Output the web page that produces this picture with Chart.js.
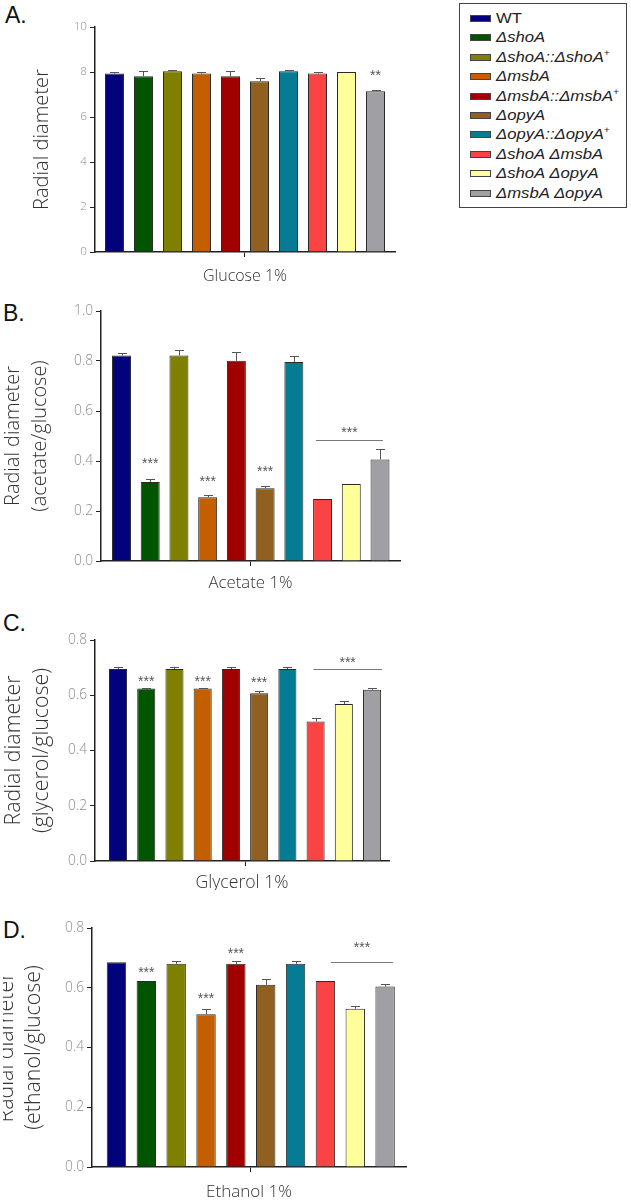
<!DOCTYPE html>
<html lang="en">
<head>
  <meta charset="UTF-8">
  <title>Radial diameter</title>
  <style>
    body { margin: 0; background: #fff; width: 631px; height: 1200px; position: relative; overflow: hidden; }
    canvas { position: absolute; }
    .letter { position: absolute; font: 23px "Liberation Sans", Arial, sans-serif; line-height: 1; color: #111; }
    #legend {
      position: absolute; left: 459px; top: 3px; width: 168px; height: 205px;
      border: 1.5px solid #444; padding-top: 4px; box-sizing: border-box;
      font: italic 15px "Liberation Sans", Arial, sans-serif; color: #222;
    }
    .row { height: 19.4px; line-height: 19.4px; position: relative; white-space: nowrap; }
    .sw { position: absolute; left: 10px; top: 7px; width: 19px; height: 5px; border: 1px solid #444; }
    .lab { position: absolute; left: 36px; top: 0; transform-origin: 0 50%; }
    .lab sup { font-size: 9px; vertical-align: 6px; line-height: 0; }
  </style>
  <script src="https://cdn.jsdelivr.net/npm/chart.js"></script>
</head>
<body>
  <div class="letter" style="left:5px; top:4px;">A.</div>
  <div class="letter" style="left:3px; top:302px;">B.</div>
  <div class="letter" style="left:3px; top:612px;">C.</div>
  <div class="letter" style="left:3px; top:919px;">D.</div>

  <canvas id="chartA" width="420" height="290" style="left:0; top:0;"></canvas>
  <canvas id="chartB" width="422" height="300" style="left:-2px; top:290px;"></canvas>
  <canvas id="chartC" width="420" height="300" style="left:0; top:590px;"></canvas>
  <!-- the original figure is cropped through the first title line of panel D -->
  <canvas id="chartD" width="430" height="310" style="left:-5px; top:890px; clip-path: inset(0 0 0 8px);"></canvas>

  <div id="legend"></div>

  <script>
    // strains and bar colours
    const strains = ['WT', 'ΔshoA', 'ΔshoA::ΔshoA+', 'ΔmsbA', 'ΔmsbA::ΔmsbA+', 'ΔopyA',
                     'ΔopyA::ΔopyA+', 'ΔshoA ΔmsbA', 'ΔshoA ΔopyA', 'ΔmsbA ΔopyA'];
    const colors = ['#02027a', '#015501', '#7f7f00', '#c45f00', '#a00000', '#8f6020',
                    '#057c94', '#fa4343', '#fefe9a', '#a0a0a4'];

    // A. glucose (absolute radial diameter)
    const glucose    = [7.93, 7.81, 8.03, 7.93, 7.81, 7.59, 8.03, 7.93, 8.00, 7.14];
    const glucoseErr = [0.08, 0.25, 0.07, 0.08, 0.25, 0.15, 0.07, 0.08, 0, 0.07];
    const glucoseStars = [null, null, null, null, null, null, null, null, null, 7.96];
    const glucoseTicks = [0, 2, 4, 6, 8, 10];

    // B. acetate / glucose
    const acetate    = [0.822, 0.316, 0.822, 0.255, 0.801, 0.291, 0.796, 0.248, 0.308, 0.406];
    const acetateErr = [0.011, 0.010, 0.023, 0.009, 0.033, 0.011, 0.022, 0, 0, 0.044];
    const acetateStars = [null, 0.400, null, 0.327, null, 0.366, null, null, null, null];
    const acetateGroup = [6.77, 9.1, 0.485, 0.523];   // from, to, line value, stars value
    const acetateTicks = [0, 0.2, 0.4, 0.6, 0.8, 1.0];

    // C. glycerol / glucose
    const glycerol    = [0.695, 0.624, 0.695, 0.624, 0.695, 0.607, 0.695, 0.505, 0.568, 0.620];
    const glycerolErr = [0.008, 0.002, 0.008, 0.002, 0.008, 0.010, 0.008, 0.011, 0.011, 0.008];
    const glycerolStars = [null, 0.657, null, 0.660, null, 0.653, null, null, null, null];
    const glycerolGroup = [6.92, 9.35, 0.695, 0.727];
    const glycerolTicks = [0, 0.2, 0.4, 0.6, 0.8];

    // D. ethanol / glucose
    const ethanol    = [0.685, 0.623, 0.680, 0.511, 0.680, 0.610, 0.680, 0.623, 0.530, 0.604];
    const ethanolErr = [0, 0, 0.010, 0.019, 0.010, 0.020, 0.010, 0, 0.010, 0.010];
    const ethanolStars = [null, 0.658, null, 0.571, 0.723, null, null, null, null, null];
    const ethanolGroup = [7.19, 9.26, 0.686, 0.741];
    const ethanolTicks = [0, 0.2, 0.4, 0.6, 0.8];

    const FAMILY = '"Open Sans", Lato, sans-serif';
    const measurer = document.createElement('canvas').getContext('2d');
    // font size that makes text as wide as in the original figure
    function fitSize(text, font, target) {
      measurer.font = font.replace('SIZE', '100px');
      return 100 * target / measurer.measureText(text).width;
    }

    // legend (the original lettering is wider than Arial, so stretch it a little)
    const legend = document.getElementById('legend');
    measurer.font = 'italic 15px "Liberation Sans", Arial';
    const squeeze = 117 / measurer.measureText('ΔmsbA::ΔmsbA').width;
    strains.forEach((s, i) => {
      let txt = s.replace(/\+/g, '<sup>+</sup>');
      if (s === 'WT') txt = '<span style="font-style:normal">WT</span>';
      legend.innerHTML += `<div class="row"><span class="sw" style="background:${colors[i]}"></span>` +
        `<span class="lab" style="transform:scaleX(${squeeze.toFixed(3)})">${txt}</span></div>`;
    });

    // error bars, significance stars and group line
    function marks(err, stars, starText, group) {
      return {
        id: 'marks',
        afterDatasetsDraw(chart) {
          const ctx = chart.ctx;
          const xs = chart.scales.x, ys = chart.scales.y;
          const vals = chart.data.datasets[0].data;
          ctx.save();
          ctx.strokeStyle = '#555';
          ctx.lineWidth = 1;
          vals.forEach((d, i) => {
            if (!err[i]) return;
            const x = Math.round(xs.getPixelForValue(d.x)) + 0.5;
            const y0 = ys.getPixelForValue(d.y);
            const y1 = Math.round(ys.getPixelForValue(d.y + err[i])) + 0.5;
            ctx.beginPath();
            ctx.moveTo(x, y0); ctx.lineTo(x, y1);
            ctx.moveTo(x - 4.5, y1); ctx.lineTo(x + 4.5, y1);
            ctx.stroke();
          });
          ctx.fillStyle = '#555';
          ctx.font = '14px "Liberation Sans", Arial, sans-serif';
          ctx.textAlign = 'center';
          ctx.textBaseline = 'middle';
          stars.forEach((v, i) => {
            if (v == null) return;
            ctx.fillText(starText, xs.getPixelForValue(i), ys.getPixelForValue(v) + 3);
          });
          if (group) {
            const yl = Math.round(ys.getPixelForValue(group[2])) + 0.5;
            ctx.strokeStyle = '#777';
            ctx.beginPath();
            ctx.moveTo(xs.getPixelForValue(group[0]), yl);
            ctx.lineTo(xs.getPixelForValue(group[1]), yl);
            ctx.stroke();
            ctx.fillText('***', xs.getPixelForValue((group[0] + group[1]) / 2), ys.getPixelForValue(group[3]) + 3);
          }
          ctx.restore();
        }
      };
    }

    function panel(id, values, err, stars, starText, group, ticks, cfg) {
      const yMax = ticks[ticks.length - 1];
      const canvas = document.getElementById(id);
      const top = parseFloat(canvas.style.top), left = parseFloat(canvas.style.left) || 0;
      const H = canvas.height;
      const yText = Array.isArray(cfg.yTitle) ? cfg.yTitle : [cfg.yTitle];
      const ySize = fitSize('Radial diameter', '300 SIZE ' + FAMILY, cfg.yLen);
      const xSize = fitSize(cfg.xTitle, '300 SIZE ' + FAMILY, cfg.xLen);
      const tSize = fitSize(yMax > 2 ? '10' : '0.8', '300 SIZE ' + FAMILY, yMax > 2 ? 13.3 : 19);
      const lineH = 27.7;
      // first line middle sits a bit left of its baseline
      const yPad = cfg.base - 0.388 * ySize - left - lineH / 2;
      const xLine = xSize * 1.2;
      const xPad = H - xLine / 2 - (cfg.xMid - top);

      new Chart(canvas, {
        type: 'bar',
        data: {
          datasets: [{
            data: values.map((v, i) => ({ x: i, y: v })),
            backgroundColor: colors,
            borderColor: '#2a2a2a',
            borderWidth: 1,
            barPercentage: cfg.bar,
            categoryPercentage: 1
          }]
        },
        options: {
          responsive: false,
          animation: false,
          layout: { padding: { top: cfg.axTop - top, right: canvas.width + left - cfg.axRight, left: 0, bottom: 0 } },
          plugins: { legend: { display: false }, tooltip: { enabled: false } },
          scales: {
            x: {
              type: 'linear', min: cfg.min, max: cfg.max, offset: false,
              afterBuildTicks: s => { s.ticks = [{ value: 4.5 }]; },
              afterFit: s => { s.height = H - (cfg.axBottom - top); },
              ticks: { display: false },
              grid: { offset: false, drawOnChartArea: false, tickLength: 5, color: '#222' },
              border: { color: '#222', width: 1.5 },
              title: {
                display: true, text: cfg.xTitle, color: '#333', padding: { top: 0, bottom: xPad },
                font: { family: FAMILY, weight: 300, size: xSize, lineHeight: 1.2 }
              }
            },
            y: {
              min: 0, max: yMax,
              afterBuildTicks: s => { s.ticks = ticks.map(v => ({ value: v })); },
              afterFit: s => { s.width = cfg.axLeft - left; },
              ticks: {
                padding: 3, color: '#8c8c8c',
                font: { family: FAMILY, weight: 300, size: tSize },
                callback: v => yMax > 2 ? String(v) : v.toFixed(1)
              },
              grid: { drawOnChartArea: false, tickLength: 5, color: '#222' },
              border: { color: '#222', width: 1.5 },
              title: {
                display: true, text: yText, color: '#333',
                padding: { top: yPad, bottom: 0 },
                font: { family: FAMILY, weight: 300, size: ySize, lineHeight: lineH + 'px' }
              }
            }
          }
        },
        plugins: [marks(err, stars, starText, group)]
      });
    }

    panel('chartA', glucose, glucoseErr, glucoseStars, '**', null, glucoseTicks,
      { axLeft: 95, axRight: 395, axTop: 27, axBottom: 252, xMid: 276, base: 50,
        min: -0.672, max: 9.672, bar: 0.655, yLen: 141, xLen: 84,
        xTitle: 'Glucose 1%', yTitle: 'Radial diameter' });
    panel('chartB', acetate, acetateErr, acetateStars, '***', acetateGroup, acetateTicks,
      { axLeft: 101, axRight: 400, axTop: 311, axBottom: 561, xMid: 583, base: 20.7,
        min: -0.714, max: 9.696, bar: 0.66, yLen: 140, xLen: 84,
        xTitle: 'Acetate 1%', yTitle: ['Radial diameter', '(acetate/glucose)'] });
    panel('chartC', glycerol, glycerolErr, glycerolStars, '***', glycerolGroup, glycerolTicks,
      { axLeft: 95, axRight: 389, axTop: 640, axBottom: 861, xMid: 883, base: 22.3,
        min: -0.815, max: 9.60, bar: 0.64, yLen: 150, xLen: 93,
        xTitle: 'Glycerol 1%', yTitle: ['Radial diameter', '(glycerol/glucose)'] });
    panel('chartD', ethanol, ethanolErr, ethanolStars, '***', ethanolGroup, ethanolTicks,
      { axLeft: 92, axRight: 406, axTop: 928, axBottom: 1167, xMid: 1192, base: 15,
        min: -0.82, max: 9.70, bar: 0.65, yLen: 150, xLen: 86,
        xTitle: 'Ethanol 1%', yTitle: ['Radial diameter', '(ethanol/glucose)'] });
  </script>
</body>
</html>
